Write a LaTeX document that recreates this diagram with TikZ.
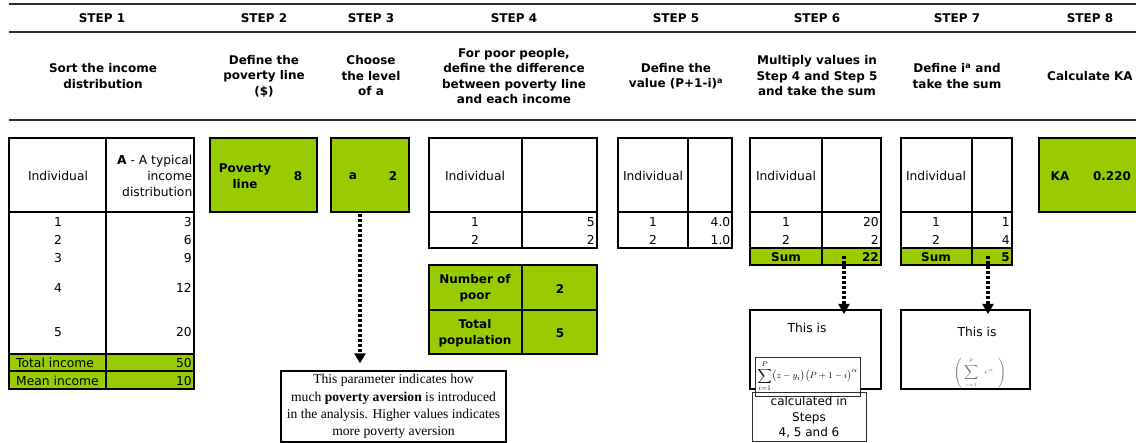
\documentclass[tikz,border=0pt]{standalone}
\usepackage{fontspec}
\setmainfont{DejaVu Sans}
\newfontfamily\notefont{Liberation Serif}
\usetikzlibrary{arrows.meta}
\definecolor{lime}{RGB}{153,204,0}
\definecolor{rulegray}{RGB}{45,45,45}
\begin{document}
\begin{tikzpicture}[x=1pt,y=-1pt,
  hrule/.style={line width=2.8pt, draw=rulegray},
  tbl/.style={line width=2pt, draw=black},
  steplbl/.style={font=\fontsize{12}{14}\selectfont\bfseries, inner sep=0pt},
  desc/.style={font=\fontsize{12}{15.5}\selectfont\bfseries, align=center, inner sep=0pt},
  cell/.style={font=\fontsize{12.3}{16}\selectfont, inner sep=0pt},
  bcell/.style={font=\fontsize{12}{16}\selectfont\bfseries, inner sep=0pt},
  box/.style={draw, line width=2pt, rectangle, inner sep=0pt},
  anchorbox/.style={rectangle, inner sep=0pt},
  thinbox/.style={draw=rulegray, line width=1pt, rectangle, inner sep=0pt},
  dotarrow/.style={line width=3.2pt, dash pattern=on 3pt off 2pt, -{Triangle[width=11pt,length=10pt]}}
]
\clip (0,0) rectangle (1136,443);
\fill[white] (0,0) rectangle (1136,443);

% header rules
\draw[hrule] (9,4) -- (1136,4);
\draw[hrule] (9,32) -- (1136,32);
\draw[hrule] (9,120) -- (1136,120);

% step labels
\node[steplbl] (s1) at (102,18) {STEP 1};
\node[steplbl] (s2) at (264,18) {STEP 2};
\node[steplbl] (s3) at (371,18) {STEP 3};
\node[steplbl] (s4) at (514,18) {STEP 4};
\node[steplbl] (s5) at (676,18) {STEP 5};
\node[steplbl] (s6) at (817,18) {STEP 6};
\node[steplbl] (s7) at (957,18) {STEP 7};
\node[steplbl] (s8) at (1090,18) {STEP 8};

% descriptions
\node[desc] (d1) at (103,76) {Sort the income\\distribution};
\node[desc] (d2) at (264,76) {Define the\\poverty line\\(\$)};
\node[desc] (d3) at (371,76) {Choose\\the level\\of a};
\node[desc] (d4) at (514,76) {For poor people,\\define the difference\\between poverty line\\and each income};
\node[desc] (d5) at (676,76) {Define the\\value (P+1-i)\textsuperscript{a}};
\node[desc] (d6) at (817,76) {Multiply values in\\Step 4 and Step 5\\and take the sum};
\node[desc] (d7) at (957,76) {Define i\textsuperscript{a} and\\take the sum};
\node[desc] (d8) at (1090,76) {Calculate KA};

% ---------- STEP 1 table
\fill[lime] (9,354) rectangle (194,389);
\draw[tbl] (9,138) rectangle (194,389);
\draw[tbl] (106,138) -- (106,389);
\draw[tbl] (9,212) -- (194,212);
\draw[tbl] (9,354) -- (194,354);
\draw[tbl] (9,371) -- (194,371);
\node[cell] (t1h) at (58,176) {Individual};
\node[cell, anchor=east, align=right] (t1a) at (192.5,176) {\textbf{A} - A typical\\income\\distribution};
\foreach \n/\v/\y in {1/3/222, 2/6/240, 3/9/258, 4/12/288, 5/20/332}{
  \node[cell] (t1i\n) at (58,\y) {\n};
  \node[cell, anchor=east] (t1v\n) at (192,\y) {\v};
}
\node[cell, anchor=west] (toti) at (16,363) {Total income};
\node[cell, anchor=east] (totv) at (192,363) {50};
\node[cell, anchor=west] (meani) at (16,381) {Mean income};
\node[cell, anchor=east] (meanv) at (192,381) {10};

% ---------- STEP 2
\node[box, fill=lime, minimum width=107pt, minimum height=74pt] (pbox) at (263.5,175) {};
\node[bcell, align=center, font=\fontsize{12}{15.5}\selectfont\bfseries] (pl) at (245,176) {Poverty\\line};
\node[bcell] (pv) at (298,176) {8};

% ---------- STEP 3
\node[box, fill=lime, minimum width=78pt, minimum height=74pt] (abox) at (370,175) {};
\node[bcell] (al) at (353,176) {a};
\node[bcell] (av) at (393,176) {2};

% ---------- STEP 4
\draw[tbl] (429,138) rectangle (597,248);
\draw[tbl] (522,138) -- (522,248);
\draw[tbl] (429,212) -- (597,212);
\node[cell] (t4h) at (475,176) {Individual};
\node[cell] (t4i1) at (475,222) {1};
\node[cell] (t4i2) at (475,240) {2};
\node[cell, anchor=east] (t4v1) at (595,222) {5};
\node[cell, anchor=east] (t4v2) at (595,240) {2};

\fill[lime] (429,265) rectangle (597,354);
\draw[tbl] (429,265) rectangle (597,354);
\draw[tbl] (522,265) -- (522,354);
\draw[tbl] (429,310) -- (597,310);
\node[desc] (np) at (475,288) {Number of\\poor};
\node[bcell] (npv) at (560,289) {2};
\node[desc] (tp) at (475,333) {Total\\population};
\node[bcell] (tpv) at (560,333) {5};

% ---------- STEP 5
\draw[tbl] (618,138) rectangle (732,248);
\draw[tbl] (688,138) -- (688,248);
\draw[tbl] (618,212) -- (732,212);
\node[cell] (t5h) at (653,176) {Individual};
\node[cell] (t5i1) at (653,222) {1};
\node[cell] (t5i2) at (653,240) {2};
\node[cell, anchor=east] (t5v1) at (730.5,222) {4.0};
\node[cell, anchor=east] (t5v2) at (730.5,240) {1.0};

% ---------- STEP 6
\fill[lime] (750,248) rectangle (881,265);
\draw[tbl] (750,138) rectangle (881,265);
\draw[tbl] (822,138) -- (822,265);
\draw[tbl] (750,212) -- (881,212);
\draw[tbl] (750,248) -- (881,248);
\node[cell] (t6h) at (786,176) {Individual};
\node[cell] (t6i1) at (786,222) {1};
\node[cell] (t6i2) at (786,240) {2};
\node[cell, anchor=east] (t6v1) at (879,222) {20};
\node[cell, anchor=east] (t6v2) at (879,240) {2};
\node[bcell] (t6s) at (786,257) {Sum};
\node[bcell, anchor=east] (t6sv) at (879,257) {22};
\node[anchorbox, minimum width=59pt, minimum height=17pt] (sum6v) at (851.5,256.5) {};

% ---------- STEP 7
\fill[lime] (901,248) rectangle (1012,265);
\draw[tbl] (901,138) rectangle (1012,265);
\draw[tbl] (972,138) -- (972,265);
\draw[tbl] (901,212) -- (1012,212);
\draw[tbl] (901,248) -- (1012,248);
\node[cell] (t7h) at (936,176) {Individual};
\node[cell] (t7i1) at (936,222) {1};
\node[cell] (t7i2) at (936,240) {2};
\node[cell, anchor=east] (t7v1) at (1010,222) {1};
\node[cell, anchor=east] (t7v2) at (1010,240) {4};
\node[bcell] (t7s) at (936,257) {Sum};
\node[bcell, anchor=east] (t7sv) at (1010,257) {5};
\node[anchorbox, minimum width=40pt, minimum height=17pt] (sum7v) at (992,256.5) {};

% ---------- STEP 8
\node[box, fill=lime, minimum width=110pt, minimum height=74pt] (kabox) at (1094,175) {};
\node[bcell] (kal) at (1060,176) {KA};
\node[bcell] (kav) at (1112,176) {0.220};

% ---------- notes
\node[draw=black, line width=1.2pt, fill=white, minimum width=225pt, minimum height=71pt,
      inner sep=0pt, align=center, font=\notefont\fontsize{13.6}{17.3}\selectfont] (note3) at (393.5,406.5)
  {This parameter indicates how\\much \textbf{poverty aversion} is introduced\\in the analysis. Higher values indicates\\more poverty aversion};

\node[box, minimum width=131pt, minimum height=79pt] (note6) at (815.5,349.5) {};
\node[cell] (n6t) at (807,328) {This is};
\node[thinbox, fill=white, minimum width=105pt, minimum height=39pt] (f6box) at (807.5,377.5) {};
\node[inner sep=0pt, font=\fontsize{9.5}{11}\selectfont] (f6) at (807.5,376) {$\displaystyle\sum_{i=1}^{P}\bigl(z-y_i\bigr)\bigl(P+1-i\bigr)^{\alpha}$};
\node[thinbox, minimum width=114pt, minimum height=49pt, align=center,
      font=\fontsize{12}{15.5}\selectfont] (calc6) at (809,417.5) {calculated in\\Steps\\4, 5 and 6};

\node[box, minimum width=129pt, minimum height=79pt] (note7) at (965.5,349.5) {};
\node[cell] (n7t) at (977,332) {This is};
\node[inner sep=0pt, text=black!55, font=\fontsize{7.5}{9}\selectfont] (f7) at (980,373) {$\displaystyle\left(\;\sum_{i=1}^{P}\;\; i^{\,\alpha}\;\;\right)$};

% ---------- dotted arrows
\draw[dotarrow, shorten <=1pt, shorten >=7pt] ([xshift=-10pt]abox.south) -- ([xshift=-10pt]abox.south |- note3.north);
\draw[dotarrow] ([xshift=-7.5pt]sum6v.center) -- ([xshift=-7.5pt,yshift=-5pt]sum6v.center |- note6.north);
\draw[dotarrow] ([xshift=-4pt]sum7v.center) -- ([xshift=-4pt,yshift=-5pt]sum7v.center |- note7.north);
\end{tikzpicture}
\end{document}
